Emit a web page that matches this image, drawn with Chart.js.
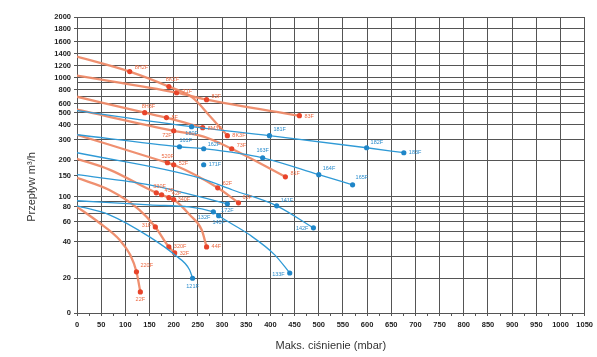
<!DOCTYPE html>
<html><head><meta charset="utf-8">
<script src="https://cdn.jsdelivr.net/npm/chart.js@4/dist/chart.umd.min.js"></script>
<style>html,body{margin:0;padding:0;background:#fff}#wrap{width:597px;height:357px;position:relative}</style>
</head><body><div id="wrap"><canvas id="c" width="597" height="357"></canvas></div>
<script>
// ---------- tick labels ----------
const xTickLabels = [0,50,100,150,200,250,300,350,400,450,500,550,600,650,700,750,800,850,900,950,1000,1050];
const yTickLabels = [0,20,40,60,80,100,150,200,300,400,500,600,800,1000,1200,1400,1600,1800,2000];
const yGridOnly = [30,50,70,90,700,900];

// ---------- series: [pressure mbar, flow m3/h, marker label] ----------
const curveO1 = [[0,1350],[109,1100,'8H2F'],[190,840,'8K2F'],[239,689],[276,464],[311,324,'8K3F']];
const curveO2 = [[0,1033],[206,757,'71F'],[268,659,'82F'],[460,473,'83F']];
const curveO3 = [[0,703],[140,500,'8H3F'],[185,456,'8F'],[260,378,'8M3F']];
const curveO4 = [[0,532],[200,356,'72F'],[262,318],[320,251,'73F'],[431,147,'81F']];
const curveO5 = [[0,330],[187,191,'520F'],[200,184,'52F'],[291,119,'62F'],[334,87.5,'63F']];
const curveO6 = [[0,206],[67,168],[164,108,'330F'],[175,104,'43F'],[190,98,'42F'],[200,94,'340F'],[233,67.9],[258,51.5],[268,36.3,'44F']];
const curveO7 = [[0,144],[67,114],[129,75],[162,54.4,'31F'],[190,36.3,'320F'],[202,32.4,'32F']];
const curveO8 = [[0,80],[46,58.7],[88,41.8],[110,31.2],[123,22.6,'220F'],[131,12.1,'22F']];

const curveB1 = [[0,521],[237,385,'180F'],[398,324,'181F'],[599,256,'182F'],[676,232,'183F']];
const curveB2 = [[0,330],[212,261,'161F'],[262,251,'162F'],[384,210,'163F'],[500,153,'164F'],[570,126,'165F']];
const curveB3 = [[0,232],[253,144],[322,114],[413,81.8,'141F'],[489,53.5,'142F']];
const curveB4 = [[0,153],[150,126],[311,85.5,'172F']];
const pointB4 = [[262,184,'171F']];
const curveB5 = [[0,91.5],[150,83.6],[282,72,'132F'],[293,66.7,'140F'],[357,46.6],[409,31.2],[440,22.1,'133F']];
const curveB6 = [[0,81.8],[67,67.9],[150,44.6],[202,31.2],[233,23.4],[239,20,'121F']];

const orangeCurves = [curveO1,curveO2,curveO3,curveO4,curveO5,curveO6,curveO7,curveO8];
const blueCurves = [curveB1,curveB2,curveB3,curveB4,curveB5,curveB6];

// ---------- flow axis geometry (non-uniform scale: value -> height units) ----------
const yAxisValues  = [0,20,30,40,50,60,70,80,90,100,150,200,300,400,500,600,700,800,900,1000,1200,1400,1600,1800,2000];
const yAxisHeights = [0,34.7,56,71,81.3,91.3,99.7,106,111.3,116,137,152.5,173,188,200,208.7,215.7,223,230.3,235,247,259,271,283.7,295.5];

function toHeight(v){
  const V=yAxisValues,H=yAxisHeights;
  if (v<=V[0]) return H[0];
  for (let i=0;i<V.length-1;i++){
    if (v<=V[i+1]){
      let f;
      if (V[i]>0 && V[i+1]<=1000) f=(Math.log(v)-Math.log(V[i]))/(Math.log(V[i+1])-Math.log(V[i]));
      else f=(v-V[i])/(V[i+1]-V[i]);
      return H[i]+f*(H[i+1]-H[i]);
    }
  }
  return H[H.length-1];
}
function fromHeight(h){
  const V=yAxisValues,H=yAxisHeights;
  for (let i=0;i<H.length-1;i++){
    if (h<=H[i+1]){
      const f=(h-H[i])/(H[i+1]-H[i]);
      if (V[i]>0 && V[i+1]<=1000) return Math.exp(Math.log(V[i])+f*(Math.log(V[i+1])-Math.log(V[i])));
      return V[i]+f*(V[i+1]-V[i]);
    }
  }
  return V[V.length-1];
}

class FlowScale extends Chart.LinearScale {
  buildTicks(){
    this.start=this.min; this.end=this.max;
    const vals=[...new Set([...yTickLabels,...yGridOnly])].sort((a,b)=>a-b);
    return vals.map(v=>({value:v}));
  }
  getPixelForValue(v){
    if (v===null||v===undefined||isNaN(v)) return NaN;
    return this.getPixelForDecimal(toHeight(v)/toHeight(this.max));
  }
  getValueForPixel(p){
    return fromHeight(this.getDecimalForPixel(p)*toHeight(this.max));
  }
  drawTitle(){
    // the reference places the axis title lower than the axis centre
    const ctx=this.ctx; ctx.save(); ctx.translate(2,22); super.drawTitle(); ctx.restore();
  }
}
FlowScale.id='flow';
FlowScale.defaults={};
Chart.register(FlowScale);

// ---------- styles ----------
const ORANGE_LINE='rgba(238,138,104,0.95)';
const ORANGE_PT='#e8442a';
const ORANGE_TXT='#ec6a42';
const BLUE_LINE='#2f9ad6';
const BLUE_PT='#1f86c8';
const BLUE_TXT='#2a8ccc';
const GRID='#555555';

const labelPlace = {
  '8H2F':[5,-4,'left'],'8K2F':[-3,-7,'left'],'8K3F':[5,0,'left'],
  '71F':[6,-1,'left'],'82F':[5,-3,'left'],'83F':[5,1,'left'],
  '8H3F':[-3,-6,'left'],'8F':[5,0,'left'],'8M3F':[5,1,'left'],
  '72F':[-2,5,'right'],'73F':[5,-3,'left'],'81F':[5,-3,'left'],
  '520F':[-6,-6,'left'],'52F':[5,-1,'left'],'62F':[5,-4,'left'],'63F':[4,-5,'left'],
  '330F':[-3,-6,'left'],'43F':[3,-4,'left'],'42F':[3,-4,'left'],'340F':[4,0,'left'],'44F':[5,0,'left'],
  '31F':[-4,-1,'right'],'320F':[5,0,'left'],'32F':[5,1,'left'],
  '220F':[4,-6,'left'],'22F':[0,8,'center'],
  '180F':[0,7,'center'],'181F':[4,-6,'left'],'182F':[4,-5,'left'],'183F':[5,0,'left'],
  '161F':[0,-6,'left'],'162F':[4,-4,'left'],'163F':[0,-7,'center'],'164F':[4,-6,'left'],'165F':[3,-7,'left'],
  '171F':[5,0,'left'],'172F':[0,7,'center'],'132F':[-3,6,'right'],'140F':[0,7,'center'],
  '141F':[4,-5,'left'],'142F':[-5,1,'right'],'133F':[-5,1,'right'],'121F':[0,8,'center']
};

function makeDs(curve,color,ptColor,width,txt,showLine){
  return {
    data: curve.map(p=>({x:p[0],y:p[1],lab:p[2]||''})),
    borderColor: color, borderWidth: width, showLine: showLine!==false,
    cubicInterpolationMode:'monotone', fill:false,
    pointRadius: ctx=>(ctx.raw && ctx.raw.lab)?2.6:0,
    pointBackgroundColor: ptColor, pointBorderWidth:0, pointHoverRadius:0,
    txtColor: txt
  };
}
const datasets=[];
blueCurves.forEach(c=>datasets.push(makeDs(c,BLUE_LINE,BLUE_PT,1.3,BLUE_TXT)));
datasets.push(makeDs(pointB4,BLUE_LINE,BLUE_PT,1.3,BLUE_TXT,false));
orangeCurves.forEach(c=>datasets.push(makeDs(c,ORANGE_LINE,ORANGE_PT,2.3,ORANGE_TXT)));

const pointLabels = {
  id:'pointLabels',
  afterDatasetsDraw(chart){
    const ctx=chart.ctx;
    ctx.save();
    ctx.font='5.5px "Liberation Sans", Arial, sans-serif';
    ctx.textBaseline='middle';
    chart.data.datasets.forEach((ds,i)=>{
      const meta=chart.getDatasetMeta(i);
      meta.data.forEach((el,j)=>{
        const lab=ds.data[j].lab;
        if(!lab) return;
        const pl=labelPlace[lab]||[4,-4,'left'];
        ctx.fillStyle=ds.txtColor;
        ctx.textAlign=pl[2];
        ctx.fillText(lab, el.x+pl[0], el.y+pl[1]);
      });
    });
    ctx.restore();
  }
};

new Chart(document.getElementById('c'),{
  type:'scatter',
  data:{datasets},
  options:{
    responsive:false, animation:false, devicePixelRatio:1,
    layout:{padding:{top:17,right:12,left:0,bottom:0}},
    plugins:{legend:{display:false},tooltip:{enabled:false}},
    scales:{
      x:{
        type:'linear', min:0, max:1050,
        afterFit: s=>{ s.height=44; },
        afterBuildTicks: s=>{ const t=[]; for(let v=0; v<=1050; v+=25) t.push({value:v}); s.ticks=t; },
        ticks:{ autoSkip:false, maxRotation:0, padding:4, color:'#222',
          font:{family:'"Liberation Sans", Arial, sans-serif', size:7.5, weight:'bold'},
          callback:v=> xTickLabels.includes(v)? String(v):'' },
        grid:{ color: c=> (c.tick && c.tick.value%50===0)? GRID:'rgba(0,0,0,0)', lineWidth:1,
          tickColor: GRID, tickLength:3, drawTicks:true },
        border:{display:true,color:GRID,width:1},
        title:{display:true,text:'Maks. ciśnienie (mbar)',color:'#333',
          font:{family:'"Liberation Sans", Arial, sans-serif',size:11},padding:{top:0,bottom:4}}
      },
      y:{
        type:'flow', position:'left', min:0, max:2000,
        afterFit: s=>{ s.width=77; },
        ticks:{ autoSkip:false, padding:3, color:'#222',
          font:{family:'"Liberation Sans", Arial, sans-serif', size:7.5, weight:'bold'},
          callback:v=> yTickLabels.includes(v)? String(v):'' },
        grid:{ color: c=> (c.tick && c.tick.value===150)? 'rgba(0,0,0,0)':GRID, lineWidth:1,
          tickColor: c=> (c.tick && yTickLabels.includes(c.tick.value))? GRID:'rgba(0,0,0,0)', tickLength:3 },
        border:{display:true,color:GRID,width:1},
        title:{display:true,text:'Przepływ m³/h',color:'#333',
          font:{family:'"Liberation Sans", Arial, sans-serif',size:11},padding:{top:23,bottom:0}}
      }
    }
  },
  plugins:[pointLabels]
});
</script>
</body></html>
